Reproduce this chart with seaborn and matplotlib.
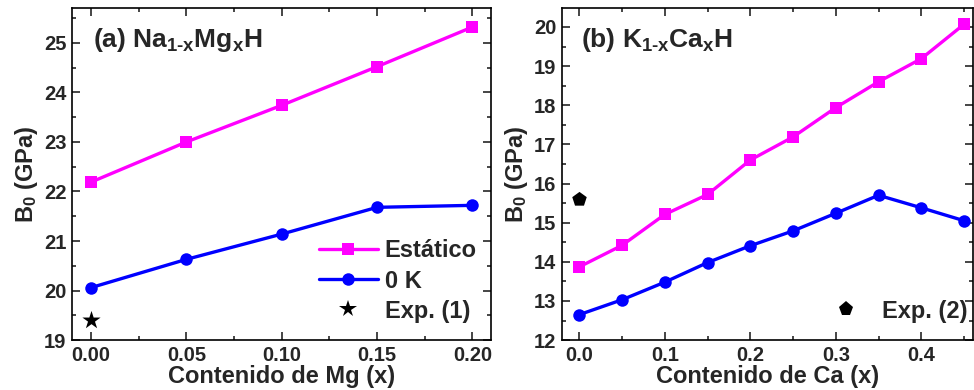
import seaborn as sns
import pandas as pd
import matplotlib.pyplot as plt
from matplotlib.ticker import MultipleLocator
from matplotlib.lines import Line2D

# datos panel (a) Na1-xMgxH
x_mg = [0.00, 0.05, 0.10, 0.15, 0.20]
b0_mg_estatico = [22.19, 23.00, 23.74, 24.52, 25.32]
b0_mg_0k = [20.06, 20.63, 21.14, 21.68, 21.72]
x_mg_exp = [0.0]
b0_mg_exp = [19.4]

# datos panel (b) K1-xCaxH
x_ca = [0.00, 0.05, 0.10, 0.15, 0.20, 0.25, 0.30, 0.35, 0.40, 0.45]
b0_ca_estatico = [13.87, 14.42, 15.21, 15.72, 16.60, 17.19, 17.94, 18.60, 19.19, 20.07]
b0_ca_0k = [12.65, 13.03, 13.48, 13.98, 14.41, 14.79, 15.24, 15.70, 15.38, 15.05]
x_ca_exp = [0.0]
b0_ca_exp = [15.6]

series_labels = ["Estático", "0 K"]

sns.set_style("ticks")
plt.rcParams['font.family'] = ['Liberation Sans', 'DejaVu Sans']
plt.rcParams['font.weight'] = 'bold'
plt.rcParams['axes.labelweight'] = 'bold'
plt.rcParams['mathtext.fontset'] = 'custom'
plt.rcParams['mathtext.rm'] = 'Liberation Sans:bold'
plt.rcParams['mathtext.it'] = 'Liberation Sans:bold'
plt.rcParams['mathtext.bf'] = 'Liberation Sans:bold'

MAGENTA = "#ff00ff"
BLUE = "#0000ff"


def tabla(x, est, cero):
    df = pd.DataFrame({"x": x, series_labels[0]: est, series_labels[1]: cero})
    return df.melt(id_vars="x", var_name="serie", value_name="B0")


fig = plt.figure(figsize=(9.74, 3.9), dpi=100)
ax1 = fig.add_axes([0.074, 0.128, 0.430, 0.851])
ax2 = fig.add_axes([0.577, 0.128, 0.422, 0.851])

paneles = [
    (ax1, tabla(x_mg, b0_mg_estatico, b0_mg_0k), x_mg_exp, b0_mg_exp, "*",
     (-0.01, 0.2097), (19, 25.7), 0.05, 0.025, "Contenido de Mg (x)",
     r"(a) Na$_{\text{1-x}}$Mg$_{\text{x}}$H", 0.05),
    (ax2, tabla(x_ca, b0_ca_estatico, b0_ca_0k), x_ca_exp, b0_ca_exp, "p",
     (-0.0202, 0.4605), (12, 20.48), 0.1, 0.05, "Contenido de Ca (x)",
     r"(b) K$_{\text{1-x}}$Ca$_{\text{x}}$H", 0.046),
]

for ax, df, xe, ye, mexp, xl, yl, xmaj, xmin, xlabel, titulo, tx in paneles:
    sns.lineplot(data=df, x="x", y="B0", hue="serie", style="serie",
                 palette=[MAGENTA, BLUE], markers=["s", "o"], dashes=False,
                 markersize=9, markeredgewidth=0, linewidth=2.4,
                 legend=False, ax=ax)
    sns.scatterplot(x=xe, y=ye, marker=mexp, s=190 if mexp == "*" else 120,
                    color="black", edgecolor="black", linewidth=0, ax=ax)
    ax.set_xlim(*xl)
    ax.set_ylim(*yl)
    ax.xaxis.set_major_locator(MultipleLocator(xmaj))
    ax.xaxis.set_minor_locator(MultipleLocator(xmin))
    ax.yaxis.set_major_locator(MultipleLocator(1))
    ax.yaxis.set_minor_locator(MultipleLocator(0.5))
    ax.tick_params(which="both", direction="in", top=True, right=True,
                   labelsize=14.5, width=1.2, pad=4)
    ax.tick_params(which="major", length=6)
    ax.tick_params(which="minor", length=3)
    for s in ax.spines.values():
        s.set_linewidth(1.2)
        s.set_color("black")
    ax.set_xlabel(xlabel, fontsize=17, fontweight="bold", labelpad=0)
    ax.set_ylabel(r"B$_0$ (GPa)", fontsize=17, fontweight="bold", labelpad=3)
    ax.text(tx, 0.945, titulo, transform=ax.transAxes, fontsize=19,
            fontweight="bold", va="top", ha="left")

ax1.xaxis.set_major_formatter(plt.FormatStrFormatter("%.2f"))
ax2.xaxis.set_major_formatter(plt.FormatStrFormatter("%.1f"))

h_a = [
    Line2D([], [], color=MAGENTA, marker="s", markersize=9, lw=2.4, markeredgewidth=0),
    Line2D([], [], color=BLUE, marker="o", markersize=9, lw=2.4, markeredgewidth=0),
    Line2D([], [], color="black", marker="*", markersize=13, lw=0, markeredgewidth=0),
]
ax1.legend(h_a, series_labels + ["Exp. (1)"], loc="lower right", frameon=False,
           prop={"size": 17, "weight": "bold"}, handlelength=2.5,
           handletextpad=0.3, labelspacing=0.3, borderaxespad=0.2,
           bbox_to_anchor=(1.0, 0.01))
h_b = [Line2D([], [], color="black", marker="p", markersize=11, lw=0, markeredgewidth=0)]
ax2.legend(h_b, ["Exp. (2)"], loc="lower right", frameon=False,
           prop={"size": 17, "weight": "bold"}, handlelength=2.4,
           handletextpad=0.3, borderaxespad=0.2, bbox_to_anchor=(1.02, 0.01))

fig.savefig("out.png", dpi=100)
